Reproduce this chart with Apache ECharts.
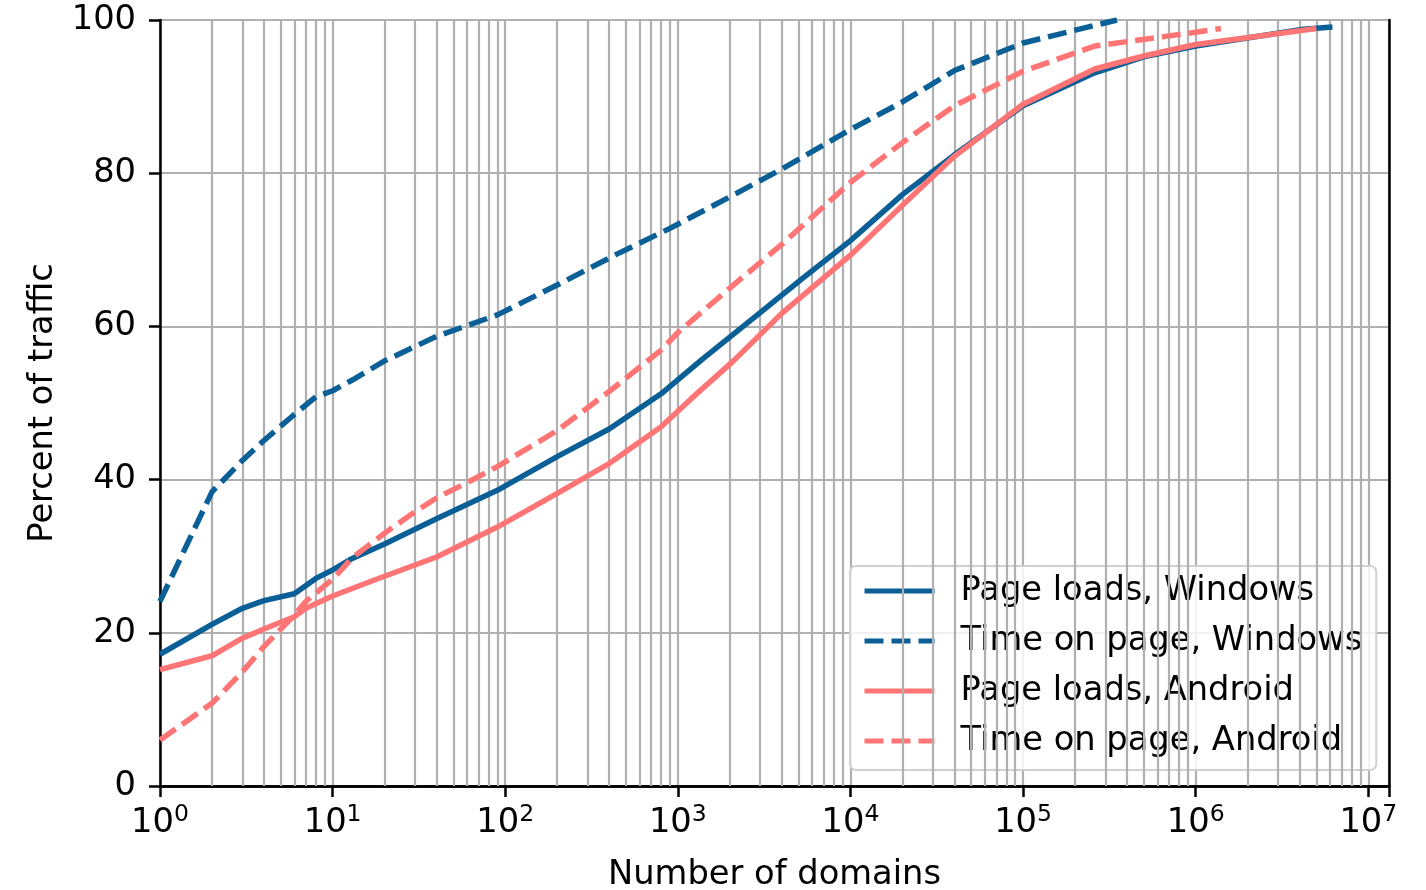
<!DOCTYPE html>
<html>
<head>
<meta charset="utf-8">
<script src="https://cdn.jsdelivr.net/npm/echarts@6/dist/echarts.min.js"></script>
<style>
html,body{margin:0;padding:0;background:#fff;}
#chart{width:1426px;height:890px;}
</style>
</head>
<body>
<div id="chart"></div>
<script>
// ---- data ----
const seriesNames = ['Page loads, Windows', 'Time on page, Windows', 'Page loads, Android', 'Time on page, Android'];

const winLoadsX = [1, 2, 3, 4, 6, 8, 10, 13, 20, 40, 90, 200, 400, 800, 1400, 3000, 5300, 10000, 20000, 40000, 100000, 260000, 500000, 1000000, 4200000, 6200000];
const winLoadsY = [17.2, 21.1, 23.2, 24.2, 25.1, 27.1, 28.2, 29.7, 31.6, 34.9, 38.6, 43.0, 46.6, 51.2, 55.8, 61.8, 66.3, 71.2, 77.2, 82.4, 88.8, 93.1, 95.2, 96.6, 98.8, 99.1];

const winTimeX = [1, 2, 3, 4, 6, 8, 10, 13, 20, 40, 90, 200, 440, 900, 2000, 3900, 10000, 20000, 40000, 100000, 260000, 350000];
const winTimeY = [24.1, 38.4, 42.5, 45.1, 48.5, 50.8, 51.6, 53.0, 55.5, 58.7, 61.5, 65.4, 69.4, 72.8, 76.9, 80.4, 85.7, 89.3, 93.4, 97.0, 99.3, 100];

const andLoadsX = [1, 2, 3, 4, 6, 7, 10, 17, 40, 90, 200, 400, 800, 1200, 2100, 4000, 10000, 20000, 40000, 100000, 260000, 500000, 1000000, 5000000];
const andLoadsY = [15.2, 17.0, 19.3, 20.5, 22.1, 23.2, 24.8, 26.8, 29.9, 33.8, 38.2, 42.1, 46.9, 50.6, 55.5, 61.7, 69.3, 75.8, 82.2, 89.0, 93.6, 95.3, 96.8, 98.9];

const andTimeX = [1, 2, 3, 4, 6, 7, 10, 13, 20, 30, 40, 60, 90, 200, 400, 800, 1000, 2000, 4000, 10000, 20000, 40000, 100000, 260000, 1000000, 1400000];
const andTimeY = [6.0, 10.8, 14.9, 18.2, 22.3, 24.1, 27.0, 29.8, 33.0, 35.8, 37.6, 39.6, 41.7, 46.4, 51.5, 56.9, 59.2, 65.0, 70.7, 78.8, 84.0, 88.8, 93.3, 96.6, 98.4, 98.9];

const xMin = 1;
const xMax = Math.pow(10, 7.12);
const decades = [0, 1, 2, 3, 4, 5, 6, 7];

// ---- styling ----
const BLUE = '#0a5f97';
const RED = '#ff7474';
const FONT = 'DejaVu Sans';
const FS = 33.7;
const GRID = '#b0b0b0';

// minor grid / tick positions (2..9 x 10^k)
const minorVals = [];
decades.forEach(function (k) {
  for (let m = 2; m <= 9; m++) {
    const v = m * Math.pow(10, k);
    if (v < xMax) minorVals.push(v);
  }
});

function pairs(xs, ys) { return xs.map(function (x, i) { return [x, ys[i]]; }); }

const chart = echarts.init(document.getElementById('chart'), null, { renderer: 'canvas' });

const lineW = 5.5;
const dash = [19, 8];
const spine = { show: true, lineStyle: { color: '#000', width: 2.5 } };

const option = {
  animation: false,
  backgroundColor: '#fff',
  textStyle: { fontFamily: FONT },
  grid: { left: 160, right: 37, top: 20, bottom: 104, outerBoundsMode: 'none', containLabel: false },
  legend: {
    data: seriesNames,
    orient: 'vertical',
    left: 850,
    top: 566,
    padding: [7, 14, 11, 12],
    itemWidth: 70,
    itemHeight: 20,
    itemGap: 14,
    backgroundColor: 'rgba(255,255,255,0.82)',
    borderColor: '#d0d0d0',
    borderWidth: 2,
    borderRadius: 6,
    itemStyle: { opacity: 0, borderWidth: 0 },
    lineStyle: { width: 5 },
    textStyle: { fontFamily: FONT, fontSize: FS, color: '#000', lineHeight: 36, padding: [0, 0, 0, 21] }
  },
  xAxis: [{
    type: 'log',
    logBase: 10,
    min: xMin,
    max: xMax,
    name: 'Number of domains',
    nameLocation: 'middle',
    nameGap: 72,
    nameTextStyle: { fontFamily: FONT, fontSize: FS, color: '#000' },
    axisLine: spine,
    axisTick: { show: true, length: 11, lineStyle: { color: '#000', width: 2.5 } },
    axisLabel: {
      margin: 17,
      color: '#000',
      formatter: function (v) {
        const k = Math.log10(v);
        if (Math.abs(k - Math.round(k)) > 1e-6) return '';
        return '{b|10}{s|' + Math.round(k) + '}';
      },
      rich: {
        b: { fontFamily: FONT, fontSize: FS, color: '#000' },
        s: { fontFamily: FONT, fontSize: 23.5, color: '#000', padding: [0, 0, 17, 0] }
      }
    },
    splitLine: { show: true, lineStyle: { color: GRID, width: 2.2 } }
  }, {
    type: 'log',
    logBase: 10,
    min: xMin,
    max: xMax,
    position: 'top',
    axisLine: spine,
    axisTick: { show: false },
    axisLabel: { show: false },
    splitLine: { show: false }
  }],
  yAxis: [{
    type: 'value',
    min: 0,
    max: 100,
    interval: 20,
    name: 'Percent of traffic',
    nameLocation: 'middle',
    nameGap: 100,
    nameRotate: 90,
    nameTextStyle: { fontFamily: FONT, fontSize: FS, color: '#000' },
    axisLine: spine,
    axisTick: { show: true, length: 11, lineStyle: { color: '#000', width: 2.5 } },
    axisLabel: { margin: 24, color: '#000', fontFamily: FONT, fontSize: FS },
    splitLine: { show: true, lineStyle: { color: GRID, width: 2.2 } }
  }, {
    type: 'value',
    min: 0,
    max: 100,
    interval: 20,
    position: 'right',
    axisLine: spine,
    axisTick: { show: false },
    axisLabel: { show: false },
    splitLine: { show: false }
  }],
  series: [
    {
      name: '_minor',
      type: 'line',
      data: [],
      z: 1,
      clip: false,
      silent: true,
      markLine: {
        silent: true,
        symbol: ['none', 'none'],
        label: { show: false },
        animation: false,
        lineStyle: { color: GRID, width: 2.2, type: 'solid' },
        emphasis: { disabled: true },
        data: minorVals.map(function (v) { return { xAxis: v }; })
      }
    },
    {
      name: '_minorTicks',
      type: 'line',
      data: [],
      z: 3,
      clip: false,
      silent: true,
      markLine: {
        silent: true,
        symbol: ['none', 'none'],
        label: { show: false },
        animation: false,
        lineStyle: { color: '#000', width: 1.8, type: 'solid' },
        emphasis: { disabled: true },
        data: minorVals.map(function (v) { return [{ coord: [v, 0] }, { coord: [v, -0.75] }]; })
      }
    },
    {
      name: seriesNames[0], type: 'line', data: pairs(winLoadsX, winLoadsY),
      showSymbol: false, symbol: 'none', color: BLUE, z: 5,
      lineStyle: { color: BLUE, width: lineW, type: 'solid' }
    },
    {
      name: seriesNames[1], type: 'line', data: pairs(winTimeX, winTimeY),
      showSymbol: false, symbol: 'none', color: BLUE, z: 5,
      lineStyle: { color: BLUE, width: lineW, type: dash }
    },
    {
      name: seriesNames[2], type: 'line', data: pairs(andLoadsX, andLoadsY),
      showSymbol: false, symbol: 'none', color: RED, z: 6,
      lineStyle: { color: RED, width: lineW, type: 'solid' }
    },
    {
      name: seriesNames[3], type: 'line', data: pairs(andTimeX, andTimeY),
      showSymbol: false, symbol: 'none', color: RED, z: 6,
      lineStyle: { color: RED, width: lineW, type: dash }
    }
  ]
};
chart.setOption(option);
</script>
</body>
</html>
